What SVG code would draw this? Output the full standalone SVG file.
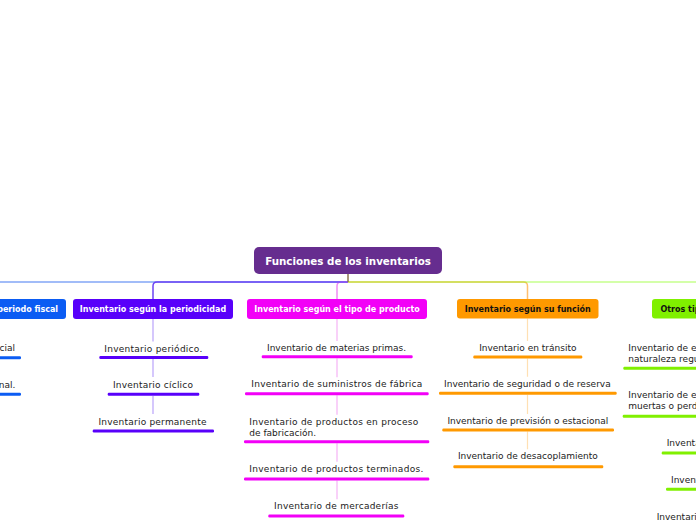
<svg xmlns="http://www.w3.org/2000/svg" width="696" height="520" viewBox="0 0 696 520">
<style>
.lbl{font-family:"DejaVu Sans","Verdana",sans-serif;font-size:9px;fill:#222}
.hd{font-family:"DejaVu Sans","Verdana",sans-serif;font-size:8px;font-weight:bold;text-anchor:middle}
.w{fill:#ffffff}.k{fill:#111111}
.c{text-anchor:middle}
.ln{fill:none;stroke-width:1.5}
.sub{fill:none;stroke-width:1.2}
</style>
<rect width="696" height="520" fill="#ffffff"/>
<g id="connectors">
  <path class="ln" d="M348,282 H-30" stroke="#82a6f6"/>
  <path class="ln" d="M348,282 H341 Q337,282 337,286 V299" stroke="#f08cf4"/>
  <path class="ln" d="M348,282 H157 Q153,282 153,286 V299" stroke="#6c44f4"/>
  <path class="ln" d="M348,282 H523.5 Q527.5,282 527.5,286 V299" stroke="#ffc070"/>
  <path class="ln" d="M348,282 H720" stroke="#80ff00" stroke-opacity="0.45"/>
  <path class="ln" d="M348,274 V282" stroke="#8c7450"/>
  <g stroke="#b9a3fb" class="sub">
    <path d="M153,319 V341.5 M153,359 V377 M153,396 V414"/>
  </g>
  <g stroke="#f6b3f6" class="sub">
    <path d="M337,319 V341 M337,358.2 V377.3 M337,395.2 V414.7 M337,443.2 V461.7 M337,480.5 V499.3"/>
  </g>
  <g stroke="#ffe0b3" class="sub">
    <path d="M527.5,318.5 V341 M527.5,358.5 V376.7 M527.5,394.8 V414 M527.5,431.5 V449.3"/>
  </g>
</g>
<g id="root">
  <rect x="254" y="247" width="188" height="27" rx="5" fill="#662d8f"/>
  <text x="348" y="264.5" font-family="DejaVu Sans, Verdana, sans-serif" font-size="10.3" font-weight="bold" fill="#ffffff" text-anchor="middle">Funciones de los inventarios</text>
</g>
<g id="n-fiscal">
  <rect x="-101" y="299" width="167" height="20" rx="3" fill="#0b5cf3"/>
  <text class="hd w" x="-17.5" y="312">Inventario según el periodo fiscal</text>
</g>
<g id="n-fiscal-1">
  <text class="lbl" x="15" y="351" text-anchor="end">Inventario inicial</text>
  <rect x="-65" y="356.2" width="86" height="3" rx="1.2" fill="#0b5cf3"/>
</g>
<g id="n-fiscal-2">
  <text class="lbl" x="15.3" y="388" text-anchor="end">Inventario final.</text>
  <rect x="-60" y="392.8" width="81" height="3" rx="1.2" fill="#0b5cf3"/>
</g>
<g id="n-periodicidad">
  <rect x="73" y="299" width="160" height="20" rx="3" fill="#5800fa"/>
  <text class="hd w" x="153" y="312">Inventario según la periodicidad</text>
</g>
<g id="n-per-1">
  <text class="lbl c" x="153.3" y="352" textLength="98">Inventario periódico.</text>
  <rect x="99.3" y="356" width="109" height="3" rx="1.2" fill="#5800fa"/>
</g>
<g id="n-per-2">
  <text class="lbl c" x="153" y="387.5" textLength="80">Inventario cíclico</text>
  <rect x="107.7" y="392.8" width="91.6" height="3" rx="1.2" fill="#5800fa"/>
</g>
<g id="n-per-3">
  <text class="lbl c" x="152.5" y="424.5" textLength="108">Inventario permanente</text>
  <rect x="92.7" y="429.5" width="121.3" height="3" rx="1.2" fill="#5800fa"/>
</g>
<g id="n-producto">
  <rect x="247" y="299" width="180" height="20" rx="3" fill="#f200f7"/>
  <text class="hd w" x="337" y="312">Inventario según el tipo de producto</text>
</g>
<g id="n-prod-1">
  <text class="lbl c" x="336.5" y="351" textLength="139">Inventario de materias primas.</text>
  <rect x="261.7" y="355.2" width="151" height="3" rx="1.2" fill="#f200f7"/>
</g>
<g id="n-prod-2">
  <text class="lbl c" x="336.8" y="387.3" textLength="171">Inventario de suministros de fábrica</text>
  <rect x="245" y="392.2" width="183.7" height="3" rx="1.2" fill="#f200f7"/>
</g>
<g id="n-prod-3">
  <text class="lbl" x="249.3" y="424.7" textLength="169">Inventario de productos en proceso</text>
  <text class="lbl" x="249.3" y="435.7">de fabricación.</text>
  <rect x="244" y="440.2" width="185.3" height="3" rx="1.2" fill="#f200f7"/>
</g>
<g id="n-prod-4">
  <text class="lbl" x="249.3" y="471.7" textLength="174">Inventario de productos terminados.</text>
  <rect x="244" y="477.5" width="185.3" height="3" rx="1.2" fill="#f200f7"/>
</g>
<g id="n-prod-5">
  <text class="lbl c" x="336.3" y="509.3" textLength="124.5">Inventario de mercaderías</text>
  <rect x="268.3" y="514.5" width="136" height="3" rx="1.2" fill="#f200f7"/>
</g>
<g id="n-funcion">
  <rect x="457" y="299" width="141.5" height="19.5" rx="3" fill="#ff9900"/>
  <text class="hd k" x="527.7" y="311.8">Inventario según su función</text>
</g>
<g id="n-fun-1">
  <text class="lbl c" x="527.8" y="351">Inventario en tránsito</text>
  <rect x="473.3" y="355.5" width="109" height="3" rx="1.2" fill="#ff9900"/>
</g>
<g id="n-fun-2">
  <text class="lbl c" x="527.4" y="386.7">Inventario de seguridad o de reserva</text>
  <rect x="439" y="391.8" width="177.7" height="3" rx="1.2" fill="#ff9900"/>
</g>
<g id="n-fun-3">
  <text class="lbl c" x="527.8" y="424">Inventario de previsión o estacional</text>
  <rect x="442.3" y="428.5" width="171.7" height="3" rx="1.2" fill="#ff9900"/>
</g>
<g id="n-fun-4">
  <text class="lbl c" x="527.8" y="459.3">Inventario de desacoplamiento</text>
  <rect x="453.3" y="465.2" width="150" height="3" rx="1.2" fill="#ff9900"/>
</g>
<g id="n-otros">
  <rect x="652" y="299" width="130" height="19.5" rx="3" fill="#80f000"/>
  <text class="hd k" x="717" y="311.8">Otros tipos de inventario</text>
</g>
<g id="n-otr-1">
  <text class="lbl" x="628.3" y="351">Inventario de existencias de</text>
  <text class="lbl" x="628.3" y="362">naturaleza regular</text>
  <rect x="623.3" y="366.8" width="190" height="3" rx="1.2" fill="#80f000"/>
</g>
<g id="n-otr-2">
  <text class="lbl" x="628.3" y="398.3">Inventario de existencias</text>
  <text class="lbl" x="628.3" y="409.3">muertas o perdidas</text>
  <rect x="622.7" y="414.8" width="190" height="3" rx="1.2" fill="#80f000"/>
</g>
<g id="n-otr-3">
  <text class="lbl" x="666.7" y="446">Inventario máximo</text>
  <rect x="661.7" y="451.5" width="110" height="3" rx="1.2" fill="#80f000"/>
</g>
<g id="n-otr-4">
  <text class="lbl" x="671" y="482.7">Inventario mínimo</text>
  <rect x="666" y="487.8" width="100" height="3" rx="1.2" fill="#80f000"/>
</g>
<g id="n-otr-5">
  <text class="lbl" x="656.7" y="519.5">Inventario disponible</text>
</g>
</svg>
